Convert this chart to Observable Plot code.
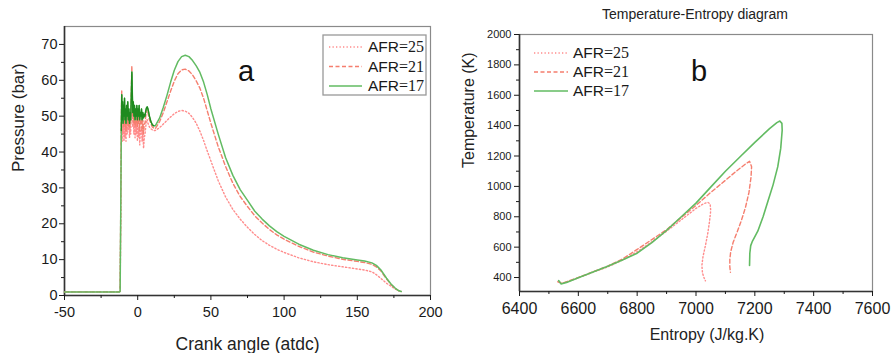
<!DOCTYPE html>
<html><head><meta charset="utf-8">
<script src="https://cdn.jsdelivr.net/npm/d3@7"></script>
<script src="https://cdn.jsdelivr.net/npm/@observablehq/plot@0.6"></script>
<style>
body{margin:0;background:#fff;font-family:"Liberation Sans",Arial,sans-serif;}
#wrap{position:relative;width:893px;height:353px;overflow:hidden;background:#fff;}
#pa,#pb{position:absolute;top:0;}
#pa{left:0;} #pb{left:450px;}
.ov{position:absolute;left:0;top:0;pointer-events:none;}
</style></head>
<body><div id="wrap"><div id="pa"></div><div id="pb"></div></div>
<script>
// ---------- Panel a data: pressure vs crank angle ----------
const seriesNames = ["AFR=25", "AFR=21", "AFR=17"];
const flatAngle = [-50, -40, -30, -20, -12.4];
const flatP = [1, 1, 1, 1, 1];
const noiseAngle = [-12,-11.6,-11.2,-10.9,-10.6,-10.3,-10,-9.7,-9.4,-9,
  -8.7,-8.4,-8,-7.6,-7.2,-6.8,-6.4,-6,-5.6,-5.2,
  -4.8,-4.4,-4,-3.7,-3.4,-3,-2.6,-2.2,-1.8,-1.4,
  -1,-0.6,-0.2,0.2,0.6,1,1.4,1.8,2.2,2.6,
  3,3.5,4,4.5,5,5.5,6,6.5,7,8,
  9,10,11];
const noise17 = [1.2,22,46,56,49,54,48,53,50,55, 49,52,48,53,50,54,49,52,48,51,
  49,55,62.3,57,51,54,50,53,49,52, 50,53,49,52,50,53,49,51,50,52,
  49,51,49.5,50.5,50,51.5,52.3,52.6,52,50, 48.5,47.6,47.3];
const noise21 = [1.2,24,48,57,50,54,49,52,47,53, 48,51,46,52,48,53,47,51,47,50,
  48,56,64,56,50,53,48,52,47,51, 48,52,47,51,48,52,46,49,48,50,
  46,49,45,48,48,50,51.5,52,51,49, 48,47,46.7];
const noise25 = [1.2,20,44,48,43,50,45,49,43,48, 44,50,43,49,45,51,46,49,44,48,
  45,52,60,52,47,50,45,49,44,48, 45,49,43,47,44,48,42,46,45,47,
  43,46,41,44,45,47,49,49,48,47, 46.5,46.2,46];
const smoothAngle = [12,15,17.5,20,22.5,25,27.5,30,32.5,35,
  37.5,40,42.5,45,47.5,50,55,60,65,70,
  75,80,85,90,95,100,110,120,130,140,
  150,155,160,163,166,170,173,176,178,180];
const smooth17 = [47.3,49.5,52.5,55.8,59.5,62.8,65.2,66.6,67,66.6,
  65.5,64,62.2,59.5,56,52,45,38.5,33.5,29.5,
  26.5,23.5,21.3,19.4,17.8,16.5,14.3,12.6,11.4,10.5,
  9.9,9.6,9.1,8.4,7.2,4.8,3.2,2.0,1.4,1.1];
const smooth21 = [46.5,48.5,51,54,57,59.8,61.8,62.9,63.1,62.6,
  61.5,59.8,57.8,55,51.5,48,41.5,36,31.3,27.6,
  24.8,22.2,20.2,18.4,16.9,15.7,13.7,12.1,11,10.1,
  9.5,9.2,8.7,8.0,6.9,4.6,3.1,1.9,1.4,1.1];
const smooth25 = [46,46.8,47.8,48.8,49.8,50.7,51.3,51.6,51.4,50.8,
  49.6,48,45.8,43.2,40.3,37.5,32,27.5,24,21.3,
  19,17,15.3,14,12.9,12,10.5,9.4,8.6,8,
  7.4,7.1,6.6,5.8,4.8,3.4,2.6,1.8,1.4,1.1];

// ---------- Panel b data: temperature vs entropy ----------
const s17 = [6533,6541,6560,6600,6650,6700,6750,6800,6850,6900,
  6950,7000,7050,7100,7150,7200,7250,7275,7285,7292,
  7293,7288,7278,7262,7245,7228,7210,7192,7186,7183,7182];
const T17 = [380,358,368,398,436,475,516,560,630,710,
  800,890,995,1100,1195,1290,1380,1420,1430,1415,
  1370,1250,1130,1010,905,800,705,640,610,560,480];
const s21 = [6530,6545,6600,6650,6700,6750,6800,6850,6900,6950,
  7000,7050,7100,7140,7170,7182,7189,7187,7180,7168,
  7155,7140,7126,7118,7115,7115,7117];
const T21 = [372,362,400,438,475,522,585,650,715,795,
  875,960,1040,1105,1150,1165,1130,1060,960,860,
  780,700,630,570,520,470,435];
const s25 = [6535,6548,6600,6650,6700,6750,6800,6850,6900,6950,
  7000,7025,7040,7048,7050,7046,7040,7032,7024,7020,
  7022,7028,7032];
const T25 = [370,362,398,435,470,515,570,635,705,780,
  855,885,895,885,840,770,690,610,540,480,
  430,395,378];

// ---------- Axis ticks ----------
const xTicksA = [-50, 0, 50, 100, 150, 200];
const xMinorA = [-25, 25, 75, 125, 175];
const yTicksA = [0, 10, 20, 30, 40, 50, 60, 70];
const yMinorA = [5, 15, 25, 35, 45, 55, 65];
const xTicksB = [6400, 6600, 6800, 7000, 7200, 7400, 7600];
const xMinorB = [6500, 6700, 6900, 7100, 7300, 7500];
const yTicksB = [400, 600, 800, 1000, 1200, 1400, 1600, 1800, 2000];
const yMinorB = [500, 700, 900, 1100, 1300, 1500, 1700, 1900];

const colors = {"AFR=25": "#ff8c8c", "AFR=21": "#f57e6e", "AFR=17": "#62bb62"};
const dash = {"AFR=25": "1.3 2.2", "AFR=21": "4 2.5", "AFR=17": null};
const noiseGreen = "#1f8a1f";

function buildA(noise, smooth) {
  return [
    ...flatAngle.map((a, i) => ({angle: a, p: flatP[i]})),
    ...noiseAngle.map((a, i) => ({angle: a, p: noise[i], noise: true})),
    ...smoothAngle.map((a, i) => ({angle: a, p: smooth[i]}))
  ];
}
const dataA = {"AFR=25": buildA(noise25, smooth25), "AFR=21": buildA(noise21, smooth21), "AFR=17": buildA(noise17, smooth17)};
const dataB = {
  "AFR=25": s25.map((s, i) => ({s, T: T25[i]})),
  "AFR=21": s21.map((s, i) => ({s, T: T21[i]})),
  "AFR=17": s17.map((s, i) => ({s, T: T17[i]}))
};

const font = "'Liberation Sans', Arial, sans-serif";
const xDomA = [-50, 200], yDomA = [0, 75];
const xDomB = [6400, 7600], yDomB = [308, 2000];

const plotA = Plot.plot({
  width: 450, height: 353,
  marginLeft: 64, marginRight: 20, marginTop: 26, marginBottom: 58,
  x: {domain: xDomA}, y: {domain: yDomA},
  style: {fontFamily: font, color: "#1a1a1a", background: "transparent", overflow: "visible"},
  marks: [
    Plot.frame({stroke: "#8a8a8a", strokeWidth: 1.2}),
    Plot.ruleY([yDomA[0]], {stroke: "#333", strokeWidth: 1.6}),
    Plot.ruleX([xDomA[0]], {stroke: "#333", strokeWidth: 1.6}),
    Plot.axisX({ticks: xTicksA, tickSize: 5, tickPadding: 6, fontSize: 14.5, label: null, tickFormat: d => String(d)}),
    Plot.axisX({ticks: xMinorA, tickSize: 3, label: null, tickFormat: () => ""}),
    Plot.axisY({ticks: yTicksA, tickSize: 5, tickPadding: 2, fontSize: 14.5, label: null}),
    Plot.axisY({ticks: yMinorA, tickSize: 3, label: null, tickFormat: () => ""}),
    ...seriesNames.map(n => Plot.line(dataA[n], {x: "angle", y: "p", stroke: colors[n], strokeWidth: n === "AFR=17" ? 1.5 : 1.4, strokeDasharray: dash[n]})),
    Plot.line(dataA["AFR=17"].filter(d => d.noise && d.angle > -11.5), {x: "angle", y: "p", stroke: noiseGreen, strokeWidth: 1.3}),
    Plot.text(["Pressure (bar)"], {frameAnchor: "left", dx: -46, dy: 11, rotate: -90, fontSize: 17, fill: "#222"}),
    Plot.text(["Crank angle (atdc)"], {frameAnchor: "bottom", dy: 54, fontSize: 17.5, fill: "#222"})
  ]
});
document.getElementById("pa").appendChild(plotA);

const plotB = Plot.plot({
  width: 443, height: 353,
  marginLeft: 69, marginRight: 21, marginTop: 34, marginBottom: 62,
  x: {domain: xDomB}, y: {domain: yDomB},
  style: {fontFamily: font, color: "#1a1a1a", background: "transparent", overflow: "visible"},
  marks: [
    Plot.frame({stroke: "#8a8a8a", strokeWidth: 1.2}),
    Plot.ruleY([yDomB[0]], {stroke: "#333", strokeWidth: 1.6}),
    Plot.ruleX([xDomB[0]], {stroke: "#333", strokeWidth: 1.6}),
    Plot.axisX({ticks: xTicksB, tickSize: 5, tickPadding: 6, fontSize: 16, label: null, tickFormat: d => String(d)}),
    Plot.axisX({ticks: xMinorB, tickSize: 3, label: null, tickFormat: () => ""}),
    Plot.axisY({ticks: yTicksB, tickSize: 5, tickPadding: 3, fontSize: 11, label: null, tickFormat: d => String(d)}),
    Plot.axisY({ticks: yMinorB, tickSize: 3, label: null, tickFormat: () => ""}),
    ...seriesNames.map(n => Plot.line(dataB[n], {x: "s", y: "T", stroke: colors[n], strokeWidth: n === "AFR=17" ? 1.6 : 1.4, strokeDasharray: dash[n]})),
    Plot.text(["Temperature (K)"], {frameAnchor: "left", dx: -51, dy: 5, rotate: -90, fontSize: 16, fill: "#222"}),
    Plot.text(["Entropy (J/kg.K)"], {frameAnchor: "bottom", dx: 11, dy: 48, fontSize: 16, fill: "#222"})
  ]
});
document.getElementById("pb").appendChild(plotB);

// ---------- Overlay: title, panel letters, legends ----------
const NS = "http://www.w3.org/2000/svg";
const ov = document.createElementNS(NS, "svg");
ov.setAttribute("class", "ov");
ov.setAttribute("width", 893); ov.setAttribute("height", 353);
document.getElementById("wrap").appendChild(ov);
function el(tag, attrs, parent) {
  const e = document.createElementNS(NS, tag);
  for (const k in attrs) e.setAttribute(k, attrs[k]);
  (parent || ov).appendChild(e);
  return e;
}
function label(x, y, name) {
  const t = el("text", {x, y, "dominant-baseline": "middle", fill: "#1a1a1a", "font-size": 15.5});
  const [a, b] = name.split("=");
  const t1 = el("tspan", {"font-family": font}, t); t1.textContent = a;
  const t2 = el("tspan", {"font-family": "'Liberation Serif', 'Times New Roman', serif", "font-size": 16}, t); t2.textContent = "=" + b;
}
// title
const title = el("text", {x: 695, y: 15, "text-anchor": "middle", "dominant-baseline": "middle", "font-family": font, "font-size": 14, fill: "#222"});
title.textContent = "Temperature-Entropy diagram";
// panel letters
const la = el("text", {x: 246, y: 81, "text-anchor": "middle", "font-family": font, "font-size": 29, fill: "#111"}); la.textContent = "a";
const lb = el("text", {x: 699, y: 81, "text-anchor": "middle", "font-family": font, "font-size": 29, fill: "#111"}); lb.textContent = "b";
// legend a
el("rect", {x: 323, y: 35, width: 103, height: 60, fill: "#fff", stroke: "#999", "stroke-width": 1.3});
[47, 66.5, 86].forEach((y, i) => {
  const n = seriesNames[i];
  el("line", {x1: 329, x2: 362, y1: y, y2: y, stroke: colors[n], "stroke-width": 1.4, "stroke-dasharray": dash[n] || "none"});
  label(368, y + 1, n);
});
// legend b
[53, 72, 91].forEach((y, i) => {
  const n = seriesNames[i];
  el("line", {x1: 534, x2: 568, y1: y, y2: y, stroke: colors[n], "stroke-width": 1.4, "stroke-dasharray": dash[n] || "none"});
  label(573, y + 1, n);
});
</script></body></html>
